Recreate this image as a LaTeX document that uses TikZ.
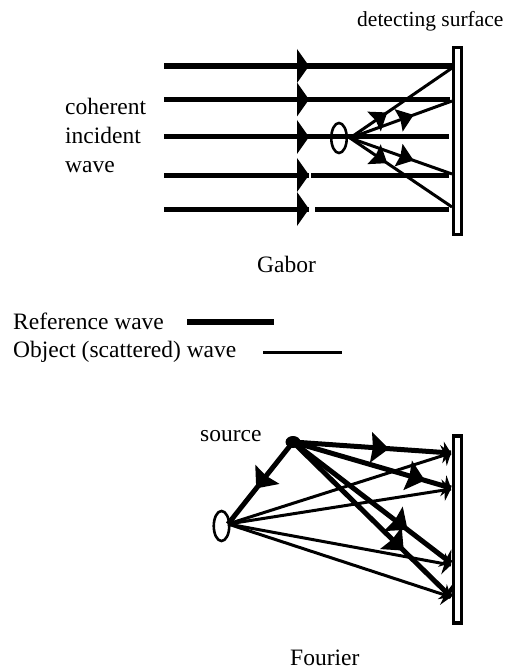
\documentclass[tikz,border=0pt]{standalone}
\usepackage{fontspec}
\setmainfont{Liberation Serif}
\usetikzlibrary{decorations.markings,shapes.geometric}
\tikzset{
  x=1pt,y=-1pt,
  lbl/.style={inner sep=0pt,font=\fontsize{23.5}{28}\selectfont,text=black,anchor=base west},
  refw/.style={line width=6pt,draw=black},
  refh/.style={line width=5pt,draw=black},
  objw/.style={line width=3pt,draw=black},
  det/.style={draw=black,line width=3.3pt,fill=white,rectangle,inner sep=0pt,minimum width=8.3pt},
  lens/.style={draw=black,line width=2.6pt,fill=none,ellipse,inner sep=0pt,minimum width=15.5pt,minimum height=30pt},
  srcdot/.style={fill=black,ellipse,inner sep=0pt,minimum width=15pt,minimum height=12pt},
  midhead/.style={postaction={decorate,decoration={markings,mark=at position #1 with {\fill[black] (-9,-15.5) -- (9,0) -- (-9,15.5) -- (-7,0) -- cycle;}}}},
  smallhead/.style={postaction={decorate,decoration={markings,mark=at position #1 with {\fill[black] (-8,-12) -- (8,0) -- (-8,12) -- (-6,0) -- cycle;}}}},
  endhead/.style={postaction={decorate,decoration={markings,mark=at position 1 with {\fill[black] (-8,-11) -- (0,0) -- (-8,11) -- (-6.5,0) -- cycle;}}}},
}
\begin{document}
\begin{tikzpicture}
\useasboundingbox (0,0) rectangle (517,671);
% --- Gabor ---
\node[det,minimum height=187pt] (detA) at (457.5,141) {};
\coordinate (a1) at (164,66);  \coordinate (b1) at (452,66);
\coordinate (a2) at (164,99.5);\coordinate (b2) at (450,99.5);
\coordinate (a3) at (164,137); \coordinate (b3) at (449,137);
\coordinate (a4) at (164,175); \coordinate (b4) at (449,175);
\coordinate (a5) at (164,209); \coordinate (b5) at (449,209);
\coordinate (h1) at (309,66);
\coordinate (h2) at (309,99.5);
\coordinate (h3) at (309,137);
\coordinate (h4) at (309,175);
\coordinate (h5) at (309,209);
\coordinate (g4) at (311,175);
\coordinate (g5) at (315,209);
\coordinate (s) at (350,138);
\coordinate (t1) at (452,68);
\coordinate (t2) at (452,101);
\coordinate (t3) at (452,174);
\coordinate (t4) at (452,207);
\draw[refw] (a1) -- (b1);
\draw[refh] (a2) -- (b2);
\draw[refh] (a3) -- (b3);
\draw[refh] (a4) -- (h4) (g4) -- (b4);
\draw[refh] (a5) -- (h5) (g5) -- (b5);
\foreach \c in {h1,h2,h3,h4,h5}
  \fill[black] (\c) ++(-12,-17) -- (\c) -- ++(-12,17) -- cycle;
\draw[objw,smallhead=0.30] (s) -- (t1);
\draw[objw,smallhead=0.55] (s) -- (t2);
\draw[objw,smallhead=0.55] (s) -- (t3);
\draw[objw,smallhead=0.30] (s) -- (t4);
\node[lens] (objA) at (339,138) {};
% --- labels ---
\node[lbl] (l1) at (65,115) {coherent};
\node[lbl] (l2) at (65,144) {incident};
\node[lbl] (l3) at (65,172) {wave};
\node[lbl,font=\fontsize{21.5}{26}\selectfont] (l4) at (357,27) {detecting surface};
\node[lbl] (l5) at (257,272) {Gabor};
\node[lbl] (l6) at (13,329) {Reference wave};
\node[lbl] (l7) at (13,357) {Object (scattered) wave};
\node[lbl] (l8) at (200,441) {source};
\node[lbl] (l9) at (290,665) {Fourier};
% --- legend ---
\coordinate (k1) at (187,322); \coordinate (k2) at (274,322);
\coordinate (k3) at (263,352); \coordinate (k4) at (342,352);
\draw[refw] (k1) -- (k2);
\draw[objw] (k3) -- (k4);
% --- Fourier ---
\node[det,minimum height=187pt] (detB) at (457.5,529.5) {};
\coordinate (src) at (293,442);
\coordinate (obj) at (228,524);
\coordinate (e1) at (451,453);
\coordinate (e2) at (451,488);
\coordinate (e3) at (451,563);
\coordinate (e4) at (451,597);
\coordinate (f1) at (451,453);
\coordinate (f2) at (451,489);
\coordinate (f3) at (451,565);
\coordinate (f4) at (451,597);
\draw[objw,endhead] (obj) -- (f1);
\draw[objw,endhead] (obj) -- (f2);
\draw[objw,endhead] (obj) -- (f3);
\draw[objw,endhead] (obj) -- (f4);
\draw[refh,midhead=0.55,endhead] (src) -- (e1);
\draw[refh,midhead=0.78,endhead] (src) -- (e2);
\draw[refh,midhead=0.68,endhead] (src) -- (e3);
\draw[refh,midhead=0.66,endhead] (src) -- (e4);
\draw[refh,midhead=0.48] (src) -- (obj);
\node[srcdot] (srcn) at (src) {};
\node[lens] (objB) at (221.5,526) {};
\end{tikzpicture}
\end{document}
